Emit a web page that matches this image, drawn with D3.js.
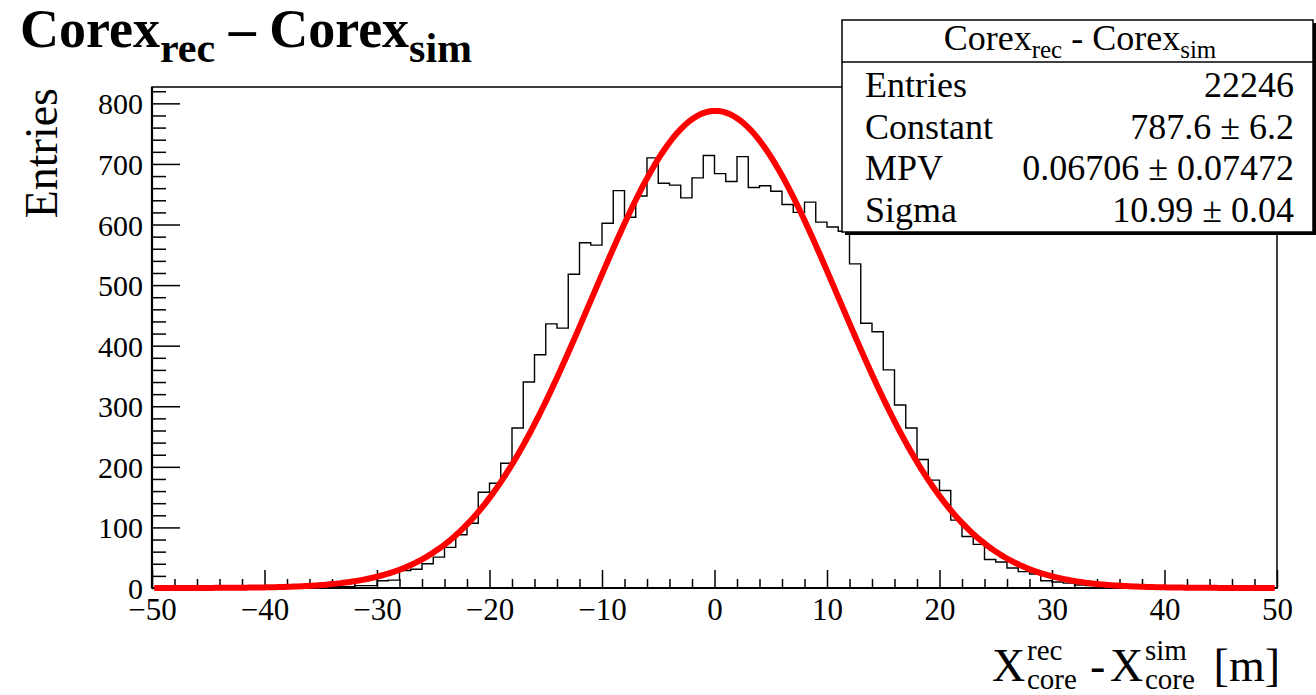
<!DOCTYPE html>
<html lang="en">
<head>
<meta charset="utf-8" />
<title>Corex rec - sim</title>
<script src="https://d3js.org/d3.v7.min.js"></script>
<style>
    body { margin: 0; background: #fff; }
    text { font-family: "Liberation Serif", "DejaVu Serif", serif; fill: #000; }
</style>
</head>
<body>
<div id="chart"></div>
<script>

// histogram: 100 bins of 1 m from -50 to 50 (counts)
const binStart = -50,
      binWidth = 1;
const counts = [
    0, 0, 0, 0, 0, 0, 0, 0, 0, 0,          // -50 .. -41
    0, 0, 0, 0, 1, 1, 2, 2, 4, 4,          // -40 .. -31
    12, 13, 29, 31, 40, 51, 67, 88, 107, 158,   // -30 .. -21
    173, 206, 264, 340, 385, 436, 429, 518, 570, 566, // -20 .. -11
    602, 656, 612, 647, 710, 668, 665, 644, 677, 714, // -10 .. -1
    684, 671, 712, 661, 664, 655, 633, 620, 637, 604, // 0 .. 9
    596, 589, 535, 437, 423, 360, 302, 264, 212, 178, // 10 .. 19
    161, 112, 85, 72, 47, 43, 33, 27, 23, 12,    // 20 .. 29
    10, 8, 5, 4, 2, 2, 1, 1, 0, 0,          // 30 .. 39
    0, 0, 0, 0, 0, 0, 0, 0, 0, 0            // 40 .. 49
];

// gaussian fit parameters (from the stats box)
const fitConstant = 787.6,
      fitMean = 0.06706,
      fitSigma = 10.99;

const statLabels = ["Entries", "Constant", "MPV", "Sigma"];
const statValues = ["22246", "787.6 \u00b1 6.2", "0.06706 \u00b1 0.07472", "10.99 \u00b1 0.04"];

const xMajor = d3.range(-50, 51, 10);
const xMinor = d3.range(-50, 51, 2).filter(d => d % 10 !== 0);
const yMajor = d3.range(0, 801, 100);
const yMinor = d3.range(0, 827, 20).filter(d => d % 100 !== 0);

const W = 1316, H = 695;
const frame = { left: 152, right: 1277, top: 87, bottom: 588 };

const svg = d3.select("#chart").append("svg")
    .attr("width", W)
    .attr("height", H);

const x = d3.scaleLinear().domain([-50, 50]).range([frame.left, frame.right]);
const y = d3.scaleLinear().domain([0, 827]).range([frame.bottom, frame.top]);

const minus = d => d < 0 ? "\u2212" + Math.abs(d) : String(d);

// frame
svg.append("rect")
    .attr("x", frame.left).attr("y", frame.top)
    .attr("width", frame.right - frame.left)
    .attr("height", frame.bottom - frame.top)
    .attr("fill", "none")
    .attr("stroke", "#000")
    .attr("stroke-width", 1.5);

// axes
const xAxisMajor = svg.append("g")
    .attr("transform", "translate(0," + frame.bottom + ")")
    .call(d3.axisBottom(x).tickValues(xMajor).tickSize(-18).tickPadding(3).tickFormat(minus));
const xAxisMinor = svg.append("g")
    .attr("transform", "translate(0," + frame.bottom + ")")
    .call(d3.axisBottom(x).tickValues(xMinor).tickSize(-9).tickFormat(""));
const yAxisMajor = svg.append("g")
    .attr("transform", "translate(" + frame.left + ",0)")
    .call(d3.axisLeft(y).tickValues(yMajor).tickSize(-28).tickPadding(9).tickFormat(d3.format("d")));
const yAxisMinor = svg.append("g")
    .attr("transform", "translate(" + frame.left + ",0)")
    .call(d3.axisLeft(y).tickValues(yMinor).tickSize(-14).tickFormat(""));

svg.selectAll(".domain").remove();
svg.selectAll(".tick line").attr("stroke", "#000").attr("stroke-width", 1.5);
svg.selectAll("g").attr("font-family", "Liberation Serif");
xAxisMajor.selectAll("text")
    .attr("font-size", 31)
    .attr("dy", "0.95em");
yAxisMajor.selectAll("text")
    .attr("font-size", 30)
    .attr("dy", "0.35em");

// thicker axis lines
svg.append("line")
    .attr("x1", frame.left).attr("x2", frame.right)
    .attr("y1", frame.bottom).attr("y2", frame.bottom)
    .attr("stroke", "#000").attr("stroke-width", 2.2);
svg.append("line")
    .attr("x1", frame.left).attr("x2", frame.left)
    .attr("y1", frame.top).attr("y2", frame.bottom)
    .attr("stroke", "#000").attr("stroke-width", 2.2);

// histogram outline
const histPts = counts.map((c, i) => [binStart + i * binWidth, c]);
histPts.push([binStart + counts.length * binWidth, counts[counts.length - 1]]);

svg.append("path")
    .datum(histPts)
    .attr("fill", "none")
    .attr("stroke", "#000")
    .attr("stroke-width", 1.4)
    .attr("d", d3.line()
        .x(d => x(d[0]))
        .y(d => y(d[1]))
        .curve(d3.curveStepAfter));

// fit curve
const gaus = v => fitConstant * Math.exp(-0.5 * Math.pow((v - fitMean) / fitSigma, 2));
const fitPts = d3.range(-49.8, 49.81, 0.2).map(v => [v, gaus(v)]);

svg.append("path")
    .datum(fitPts)
    .attr("fill", "none")
    .attr("stroke", "#ff0000")
    .attr("stroke-width", 6)
    .attr("stroke-linejoin", "round")
    .attr("d", d3.line()
        .x(d => x(d[0]))
        .y(d => y(d[1]))
        .curve(d3.curveLinear));

// main title
const title = svg.append("text")
    .attr("x", 20)
    .attr("y", 47)
    .attr("font-size", 54)
    .attr("font-weight", "bold");
title.append("tspan").text("Corex");
title.append("tspan").attr("font-size", 42).attr("dy", 15).text("rec");
title.append("tspan").attr("dy", -15).text(" \u2013 Corex");
title.append("tspan").attr("font-size", 42).attr("dy", 15).text("sim");

// y axis title
svg.append("text")
    .attr("transform", "translate(57,88) rotate(-90)")
    .attr("text-anchor", "end")
    .attr("font-size", 46)
    .text("Entries");

// x axis title
const xt = svg.append("g");
function sideScript(parent, xPos, base, sup, sub) {
    parent.append("text").attr("x", xPos).attr("y", base).attr("font-size", 46).text("X");
    parent.append("text").attr("x", xPos + 35).attr("y", base - 21).attr("font-size", 29).text(sup);
    parent.append("text").attr("x", xPos + 35).attr("y", base + 8).attr("font-size", 29).text(sub);
}
sideScript(xt, 992, 681, "rec", "core");
xt.append("text").attr("x", 1090).attr("y", 681).attr("font-size", 46).text("-");
sideScript(xt, 1110, 681, "sim", "core");
xt.append("text").attr("x", 1280).attr("y", 681).attr("font-size", 46)
    .attr("text-anchor", "end").text("[m]");

// stats box
const box = { x: 842, y: 20, w: 471, h: 212 };
svg.append("rect")
    .attr("x", box.x + 3).attr("y", box.y + 3)
    .attr("width", box.w).attr("height", box.h)
    .attr("fill", "#000");
svg.append("rect")
    .attr("x", box.x).attr("y", box.y)
    .attr("width", box.w).attr("height", box.h)
    .attr("fill", "#fff")
    .attr("stroke", "#000")
    .attr("stroke-width", 1.5);
svg.append("line")
    .attr("x1", box.x).attr("x2", box.x + box.w)
    .attr("y1", 62).attr("y2", 62)
    .attr("stroke", "#000").attr("stroke-width", 1.5);

const st = svg.append("text")
    .attr("x", 1080)
    .attr("y", 50)
    .attr("text-anchor", "middle")
    .attr("font-size", 36);
st.append("tspan").text("Corex");
st.append("tspan").attr("font-size", 25).attr("dy", 8).text("rec");
st.append("tspan").attr("dy", -8).text(" - Corex");
st.append("tspan").attr("font-size", 25).attr("dy", 8).text("sim");

const rowY = d3.scalePoint().domain(statLabels).range([97, 222]);
svg.selectAll(".statLabel")
    .data(statLabels)
    .enter().append("text")
    .attr("class", "statLabel")
    .attr("x", 865)
    .attr("y", d => rowY(d))
    .attr("font-size", 36)
    .text(d => d);
svg.selectAll(".statValue")
    .data(statValues)
    .enter().append("text")
    .attr("class", "statValue")
    .attr("x", 1294)
    .attr("y", (d, i) => rowY(statLabels[i]))
    .attr("text-anchor", "end")
    .attr("font-size", 36)
    .text(d => d);

</script>
</body>
</html>
